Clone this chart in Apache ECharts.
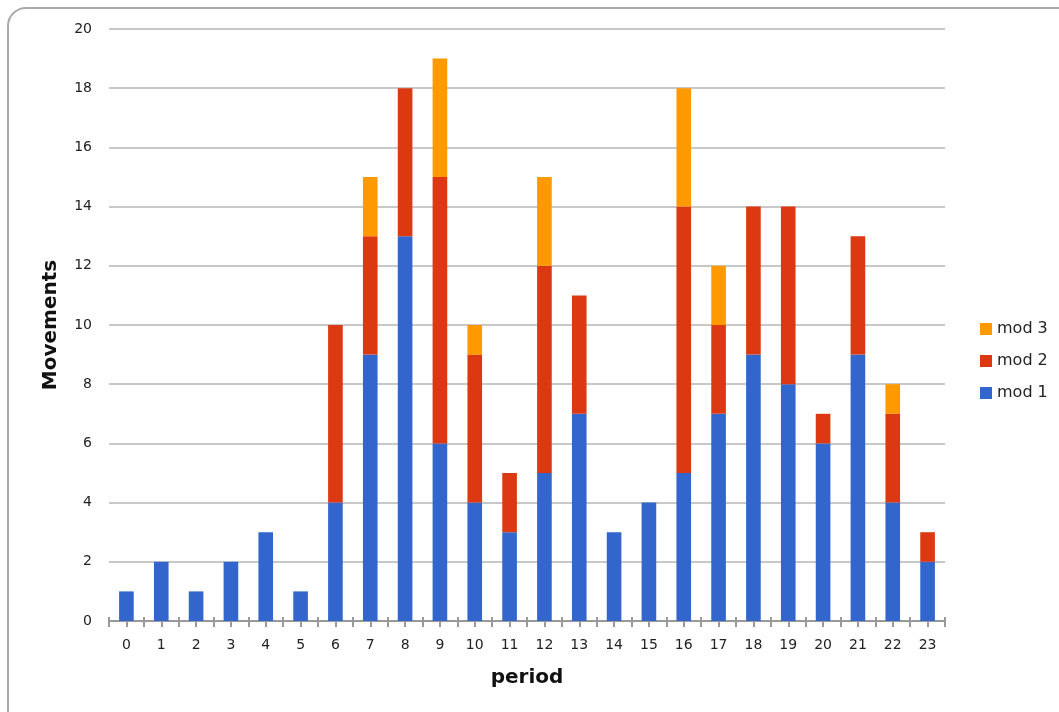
<!DOCTYPE html>
<html>
<head>
<meta charset="utf-8">
<script src="https://cdn.jsdelivr.net/npm/echarts@6/dist/echarts.min.js"></script>
<style>
  html, body { margin: 0; padding: 0; background: #fff; }
  #chart { width: 1059px; height: 712px; }
</style>
</head>
<body>
<div id="chart"></div>
<script>
// Periods along the x axis
const periods = ['0','1','2','3','4','5','6','7','8','9','10','11','12','13','14','15','16','17','18','19','20','21','22','23'];

// Movements per period, split by module (stacked)
const mod1 = [1, 2, 1, 2, 3, 1, 4, 9, 13, 6, 4, 3, 5, 7, 3, 4, 5, 7, 9, 8, 6, 9, 4, 2];
const mod2 = [0, 0, 0, 0, 0, 0, 6, 4, 5, 9, 5, 2, 7, 4, 0, 0, 9, 3, 5, 6, 1, 4, 3, 1];
const mod3 = [0, 0, 0, 0, 0, 0, 0, 2, 0, 4, 1, 0, 3, 0, 0, 0, 4, 2, 0, 0, 0, 0, 1, 0];

const chart = echarts.init(document.getElementById('chart'), null, { renderer: 'canvas' });

const font = '"DejaVu Sans", Verdana, sans-serif';
const axisGray = '#999999';

function seriesOf(name, data, color) {
  return {
    name: name,
    type: 'bar',
    stack: 'total',
    barWidth: '42%',
    data: data.map(v => v === 0 ? null : v),
    itemStyle: { color: color },
    xAxisIndex: 0,
    yAxisIndex: 0
  };
}

chart.setOption({
  animation: false,
  backgroundColor: '#ffffff',
  textStyle: { fontFamily: font },
  graphic: [{
    type: 'rect',
    shape: { x: 8, y: 8, width: 1080, height: 740, r: 18 },
    style: { fill: 'none', stroke: '#aaaaaa', lineWidth: 2 },
    silent: true,
    z: -1
  }],
  grid: { left: 109, right: 114, top: 29, bottom: 91, containLabel: false },
  legend: {
    data: ['mod 3', 'mod 2', 'mod 1'],
    orient: 'vertical',
    left: 975,
    top: 316,
    itemWidth: 12,
    itemHeight: 12,
    itemGap: 16,
    icon: 'rect',
    textStyle: { fontFamily: font, fontSize: 16, color: '#222222' }
  },
  xAxis: [{
    type: 'category',
    data: periods,
    name: 'period',
    nameLocation: 'middle',
    nameGap: 47,
    nameTextStyle: { fontFamily: font, fontSize: 20, fontWeight: 'bold', color: '#111111' },
    axisLine: { lineStyle: { color: axisGray, width: 2 } },
    axisTick: { show: true, length: 6, lineStyle: { color: axisGray, width: 2 } },
    axisLabel: { margin: 17, fontSize: 14, color: '#222222', fontFamily: font }
  }, {
    // boundary ticks reaching above the axis line
    type: 'category',
    data: periods,
    position: 'bottom',
    axisLine: { show: false },
    axisTick: { show: true, inside: true, length: 4, lineStyle: { color: axisGray, width: 2 } },
    axisLabel: { show: false }
  }, {
    // short ticks under each category centre
    type: 'category',
    data: periods,
    position: 'bottom',
    axisLine: { show: false },
    axisTick: { show: true, alignWithLabel: true, length: 6, lineStyle: { color: axisGray, width: 2 } },
    axisLabel: { show: false }
  }],
  yAxis: {
    type: 'value',
    min: 0,
    max: 20,
    interval: 2,
    name: 'Movements',
    nameLocation: 'middle',
    nameGap: 48,
    nameTextStyle: { fontFamily: font, fontSize: 20, fontWeight: 'bold', color: '#111111' },
    axisLine: { show: false },
    axisTick: { show: false },
    axisLabel: { margin: 17, fontSize: 14, color: '#222222', fontFamily: font },
    splitLine: { lineStyle: { color: '#c8c8c8', width: 2 } }
  },
  series: [
    seriesOf('mod 1', mod1, '#3366cc'),
    seriesOf('mod 2', mod2, '#dc3912'),
    seriesOf('mod 3', mod3, '#ff9900')
  ]
});
</script>
</body>
</html>
